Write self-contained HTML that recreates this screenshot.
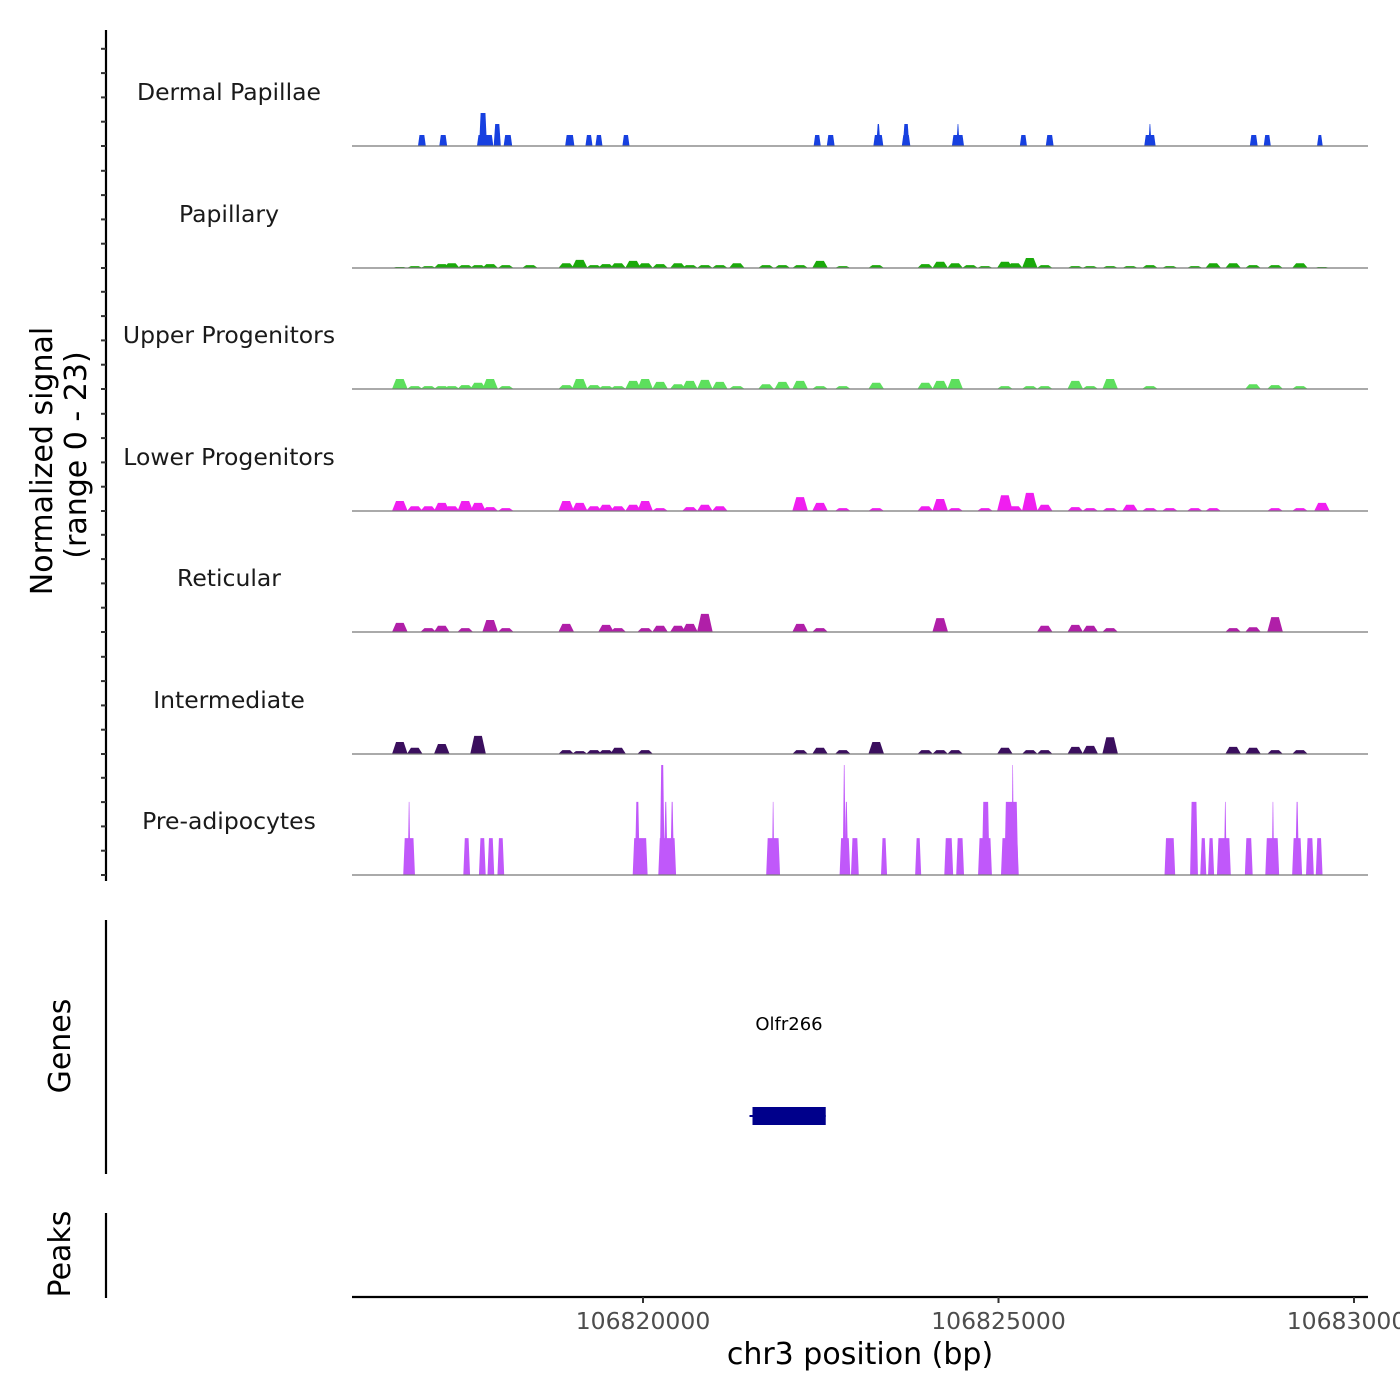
<!DOCTYPE html>
<html><head><meta charset="utf-8"><style>
html,body{margin:0;padding:0;background:#fff;}
svg{display:block;font-family:"DejaVu Sans","Liberation Sans",sans-serif;}
</style></head><body>
<svg id="chart" width="1400" height="1400" viewBox="0 0 1400 1400" xmlns="http://www.w3.org/2000/svg">
<rect x="0" y="0" width="1400" height="1400" fill="#fff"/>
<g id="signal-axis"></g>
<g id="tracks"></g>
<text transform="translate(52,461) rotate(-90)" text-anchor="middle" font-size="30" fill="#000">Normalized signal</text>
<text transform="translate(86,455) rotate(-90)" text-anchor="middle" font-size="30" fill="#000">(range 0 - 23)</text>
<line x1="106" y1="920" x2="106" y2="1174" stroke="#000" stroke-width="2.2"/>
<text transform="translate(70,1046) rotate(-90)" text-anchor="middle" font-size="30" fill="#000">Genes</text>
<text x="789" y="1030" text-anchor="middle" font-size="18" fill="#000">Olfr266</text>
<g id="genes"></g>
<line x1="106" y1="1213" x2="106" y2="1298" stroke="#000" stroke-width="2.2"/>
<text transform="translate(70,1254) rotate(-90)" text-anchor="middle" font-size="30" fill="#000">Peaks</text>
<g id="xaxis"></g>
<text x="860" y="1364" text-anchor="middle" font-size="30" fill="#000">chr3 position (bp)</text>
</svg>
<script>
// ---- data ----
const regionStart = 106815907;
const regionEnd = 106830197;
const signalMax = 23;
const xTicks = [106820000, 106825000, 106830000];
const xTickLabels = ["106820000", "106825000", "106830000"];
const trackNames = ["Dermal Papillae","Papillary","Upper Progenitors","Lower Progenitors","Reticular","Intermediate","Pre-adipocytes"];
const trackColors = ["#1740e0","#1aa90a","#5ddf5d","#f01ef0","#b01fa8","#3b0f5e","#c058fa"];

// Dermal Papillae peaks (kb)
const dpPos = [106816.89,106817.19,106817.78,106817.75,106817.95,106818.10,106818.97,106819.24,106819.38,106819.76,106822.45,106822.64,106823.31,106823.31,106823.70,106823.70,106824.43,106824.43,106825.35,106825.72,106827.13,106827.13,106828.59,106828.78,106829.52];
const dpVal = [2.3,2.3,2.3,6.9,4.6,2.3,2.3,2.3,2.3,2.3,2.3,2.3,2.3,4.6,2.3,4.6,2.3,4.6,2.3,2.3,2.3,4.6,2.3,2.3,2.3];
const dpWid = [110,110,230,110,100,120,130,100,100,100,100,110,140,60,120,90,170,45,100,110,160,45,110,100,80];

// shared grid of bin centres for the low-signal tracks (kb)
const binPos = [106816.58,106816.79,106816.98,106817.17,106817.31,106817.50,106817.68,106817.85,106818.07,106818.41,106818.92,106819.11,106819.31,106819.48,106819.65,106819.86,106820.03,106820.24,106820.49,106820.66,106820.87,106821.08,106821.32,106821.73,106821.96,106822.21,106822.49,106822.81,106823.28,106823.97,106824.18,106824.39,106824.60,106824.81,106825.09,106825.23,106825.44,106825.65,106826.08,106826.29,106826.57,106826.85,106827.13,106827.41,106827.76,106828.02,106828.30,106828.58,106828.89,106829.24,106829.55];
const papillaryVal = [0.2,0.4,0.4,0.8,1.0,0.6,0.6,0.8,0.6,0.6,1.0,1.7,0.6,0.8,1.0,1.5,1.0,0.8,1.0,0.6,0.6,0.6,1.0,0.6,0.6,0.6,1.5,0.4,0.6,0.8,1.3,1.0,0.6,0.4,1.3,1.0,2.1,0.6,0.4,0.4,0.4,0.4,0.6,0.4,0.4,1.0,1.0,0.6,0.6,1.0,0.2];
const upperVal = [2.1,0.6,0.6,0.6,0.6,0.8,1.3,2.1,0.6,0,0.8,2.1,0.8,0.6,0.6,1.7,2.1,1.5,1.0,1.7,1.9,1.5,0.6,1.0,1.5,1.7,0.6,0.6,1.3,1.3,1.7,2.1,0,0,0.6,0,0.6,0.6,1.7,0.6,2.1,0,0.6,0,0,0,0,1.0,0.8,0.6,0];
const lowerVal = [2.1,1.0,1.0,1.7,1.0,2.1,1.7,0.8,0.6,0,2.1,1.7,1.0,1.3,1.0,1.3,2.1,0.6,0,0.8,1.3,1.0,0,0,0,2.9,1.7,0.6,0.6,1.0,2.5,0.6,0,0.6,3.3,1.0,3.8,1.3,0.8,0.6,0.6,1.3,0.6,0.6,0.6,0.6,0,0,0.6,0.6,1.7];
const reticularVal = [1.9,0,0.8,1.3,0,0.8,0,2.5,0.8,0,1.7,0,0,1.5,0.8,0,0.8,1.3,1.3,1.7,3.8,0,0,0,0,1.7,0.8,0,0,0,2.9,0,0,0,0,0,0,1.3,1.5,1.3,0.8,0,0,0,0,0,0.8,1.0,3.1,0,0];
const intermediateVal = [2.5,1.3,0,2.1,0,0,3.8,0,0,0,0.8,0.6,0.8,0.8,1.3,0,0.8,0,0,0,0,0,0,0,0,0.8,1.3,0.8,2.5,0.8,0.8,0.8,0,0,1.3,0,0.8,0.8,1.5,1.7,3.5,0,0,0,0,0,1.5,1.3,0.8,0.8,0];

// Pre-adipocytes blocks (kb)
const paPos = [106816.71,106816.71,106817.52,106817.74,106817.86,106818.00,106819.96,106819.92,106820.34,106820.27,106820.32,106820.41,106821.83,106821.83,106822.84,106822.83,106822.86,106822.98,106823.39,106823.87,106824.30,106824.46,106824.81,106824.82,106825.16,106825.18,106825.20,106827.41,106827.75,106827.88,106827.99,106828.17,106828.19,106828.52,106828.85,106828.86,106829.20,106829.20,106829.38,106829.51];
const paVal = [7.7,15.3,7.7,7.7,7.7,7.7,7.7,15.3,7.7,23,15.3,15.3,7.7,15.3,7.7,23,15.3,7.7,7.7,7.7,7.7,7.7,7.7,15.3,7.7,15.3,23,7.7,15.3,7.7,7.7,7.7,15.3,7.7,7.7,15.3,7.7,15.3,7.7,7.7];
const paWid = [165,40,95,95,95,95,210,70,250,70,55,55,195,35,150,45,55,110,85,85,125,110,195,110,250,195,35,150,110,85,85,195,40,110,195,35,140,55,110,95];

const geneStart = 106821540;
const geneEnd = 106822570;

// ---- scales ----
const NS = "http://www.w3.org/2000/svg";
const plotL = 352, plotR = 1368;
function xScale(bp){ return plotL + (bp - regionStart) / (regionEnd - regionStart) * (plotR - plotL); }
const trackBase = [146,268,389,511,632,754,875];
const trackH = 110;
function yScale(v, t){ return trackBase[t] - v / signalMax * trackH; }
function mk(tag, attrs, parent){ const e=document.createElementNS(NS,tag); for(const k in attrs) e.setAttribute(k,attrs[k]); parent.appendChild(e); return e; }

// signal axis
const ax = document.getElementById('signal-axis');
const axLine = mk('line',{x1:106,y1:30,x2:106,y2:881,stroke:'#000','stroke-width':2.2},ax);


for(let t=0;t<7;t++){
  for(let k=0;k<5;k++){
    const y = trackBase[t] - k*24.3;
    const tk = mk('line',{x1:101,y1:y,x2:106,y2:y,stroke:'#333','stroke-width':2},ax);
    
    
  }
}

// tracks
const tg = document.getElementById('tracks');
function drawPeak(g, bpCenter, bpWidth, v, t, color, slope){
  const xc = xScale(bpCenter*1000);
  const hw = Math.max(1.2, bpWidth / (regionEnd-regionStart) * (plotR-plotL) / 2);
  const y0 = trackBase[t], y1 = yScale(v,t);
  const s = Math.min(slope, hw*0.8);
  const p = mk('polygon',{points:`${xc-hw},${y0} ${xc-hw+s},${y1} ${xc+hw-s},${y1} ${xc+hw},${y0}`, fill:color},g);
  
  
}
const binSets = [null,papillaryVal,upperVal,lowerVal,reticularVal,intermediateVal,null];
for(let t=0;t<7;t++){
  const g = mk('g',{},tg);
  
  
  const lbl = mk('text',{x:229,y:trackBase[t]-46,'text-anchor':'middle','font-size':23.5,fill:'#1a1a1a'},g);
  lbl.textContent = trackNames[t];
  
  
  if(t===0){
    for(let i=0;i<dpPos.length;i++) drawPeak(g,dpPos[i],dpWid[i],dpVal[i],t,trackColors[t],1.5);
  } else if(t===6){
    for(let i=0;i<paPos.length;i++) drawPeak(g,paPos[i],paWid[i],paVal[i],t,trackColors[t],1.5);
  } else {
    const vals = binSets[t];
    for(let i=0;i<binPos.length;i++) if(vals[i]>0) drawPeak(g,binPos[i],220,vals[i],t,trackColors[t],4);
  }
  const bl = mk('line',{x1:plotL,y1:trackBase[t],x2:plotR,y2:trackBase[t],stroke:'#777','stroke-width':1.2},g);
  
  
}

// gene
const gg = document.getElementById('genes');
const gl = mk('line',{x1:xScale(geneStart)-3,y1:1116,x2:xScale(geneEnd),y2:1116,stroke:'#00008b','stroke-width':2},gg);


const gr = mk('rect',{x:xScale(geneStart),y:1107,width:xScale(geneEnd)-xScale(geneStart),height:18,fill:'#00008b'},gg);



// x axis
const xg = document.getElementById('xaxis');
const xl = mk('line',{x1:plotL,y1:1297,x2:plotR,y2:1297,stroke:'#000','stroke-width':2.2},xg);


for(let i=0;i<xTicks.length;i++){
  const x = xScale(xTicks[i]);
  const tk = mk('line',{x1:x,y1:1297,x2:x,y2:1303,stroke:'#333','stroke-width':2},xg);
  
  
  const tx = mk('text',{x:x,y:1329,'text-anchor':'middle','font-size':23.5,fill:'#4d4d4d'},xg);
  tx.textContent = xTickLabels[i];
  
  
}
</script>
</body></html>
